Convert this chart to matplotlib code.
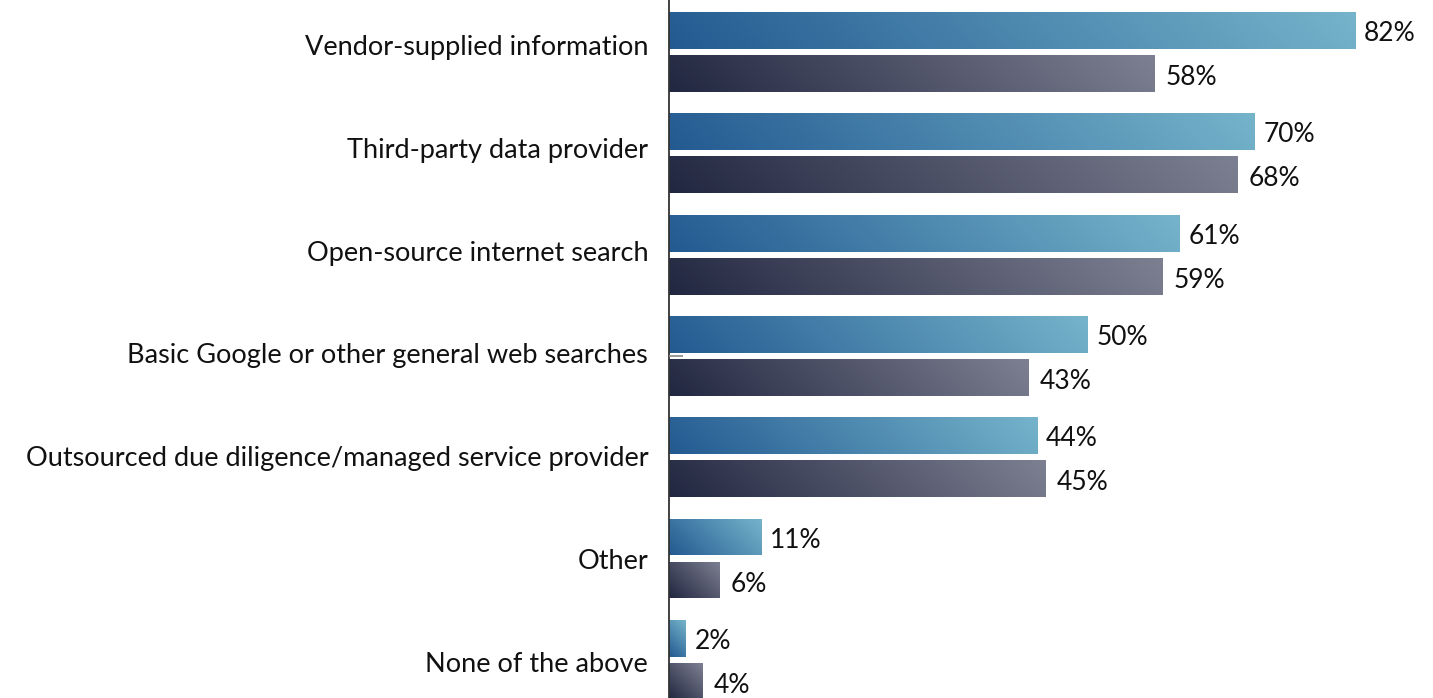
import matplotlib
matplotlib.use("Agg")
import matplotlib.pyplot as plt
import numpy as np
from matplotlib.colors import LinearSegmentedColormap

categories = ["Vendor-supplied information", "Third-party data provider",
              "Open-source internet search", "Basic Google or other general web searches",
              "Outsourced due diligence/managed service provider", "Other", "None of the above"]
series_a = [82, 70, 61, 50, 44, 11, 2]
series_b = [58, 68, 59, 43, 45, 6, 4]

plt.rcParams['font.family'] = ['Lato', 'DejaVu Sans']

W, H = 1433, 698
fig = plt.figure(figsize=(W / 100, H / 100), dpi=100)
ax = fig.add_axes([669 / W, 0, (W - 669) / W, 1])
px_per_pct = 8.366
ax.set_xlim(0, (W - 669) / px_per_pct)
ax.set_ylim(H, 0)

pitch = 101.3
bh = 37
n = len(categories)
ya = [30.5 + i * pitch for i in range(n)]
yb = [73.5 + i * pitch for i in range(n)]

bars_a = ax.barh(ya, series_a, height=bh, color='none', edgecolor='none')
bars_b = ax.barh(yb, series_b, height=bh, color='none', edgecolor='none')

cmap_a = LinearSegmentedColormap.from_list('a', ['#235a91', '#75b4cb'])
cmap_b = LinearSegmentedColormap.from_list('b', ['#222741', '#7d8091'])

def paint(bars, cmap):
    for p in bars:
        x0, y0 = p.get_x(), p.get_y()
        w, h = p.get_width(), p.get_height()
        wpx = w * px_per_pct
        hpx = h
        nx = max(int(wpx), 2)
        ny = max(int(hpx), 2)
        U, V = np.meshgrid(np.linspace(0, wpx, nx), np.linspace(hpx, 0, ny))
        grad = (U + V) / (wpx + hpx)
        im = ax.imshow(grad, cmap=cmap, vmin=0, vmax=1, aspect='auto',
                       extent=[x0, x0 + w, y0 + h, y0], interpolation='bilinear',
                       zorder=2)
        im.set_clip_path(p)

paint(bars_a, cmap_a)
paint(bars_b, cmap_b)
ax.set_xlim(0, (W - 669) / px_per_pct)
ax.set_ylim(H, 0)

for y, val in zip(ya, series_a):
    ax.text(val + 9 / px_per_pct, y + 3, f"{val}%", va='center', ha='left',
            fontsize=19, color='#111111')
for y, val in zip(yb, series_b):
    ax.text(val + 11 / px_per_pct, y + 4, f"{val}%", va='center', ha='left',
            fontsize=19, color='#111111')

for s in ['top', 'right', 'bottom']:
    ax.spines[s].set_visible(False)
ax.spines['left'].set_color('#333333')
ax.spines['left'].set_linewidth(1.3)
ax.set_xticks([])

label_y = [45 + i * 102.8 for i in range(n)]
ax.set_yticks(label_y)
ax.set_yticklabels(categories, fontsize=19.5, color='#111111')
ax.tick_params(axis='y', length=0, pad=15)

# small stray tick
ax.plot([0, 14 / px_per_pct], [355.5, 355.5], color='#888888', lw=1.2, zorder=3,
        solid_capstyle='butt')

fig.savefig("out.png", dpi=100)
